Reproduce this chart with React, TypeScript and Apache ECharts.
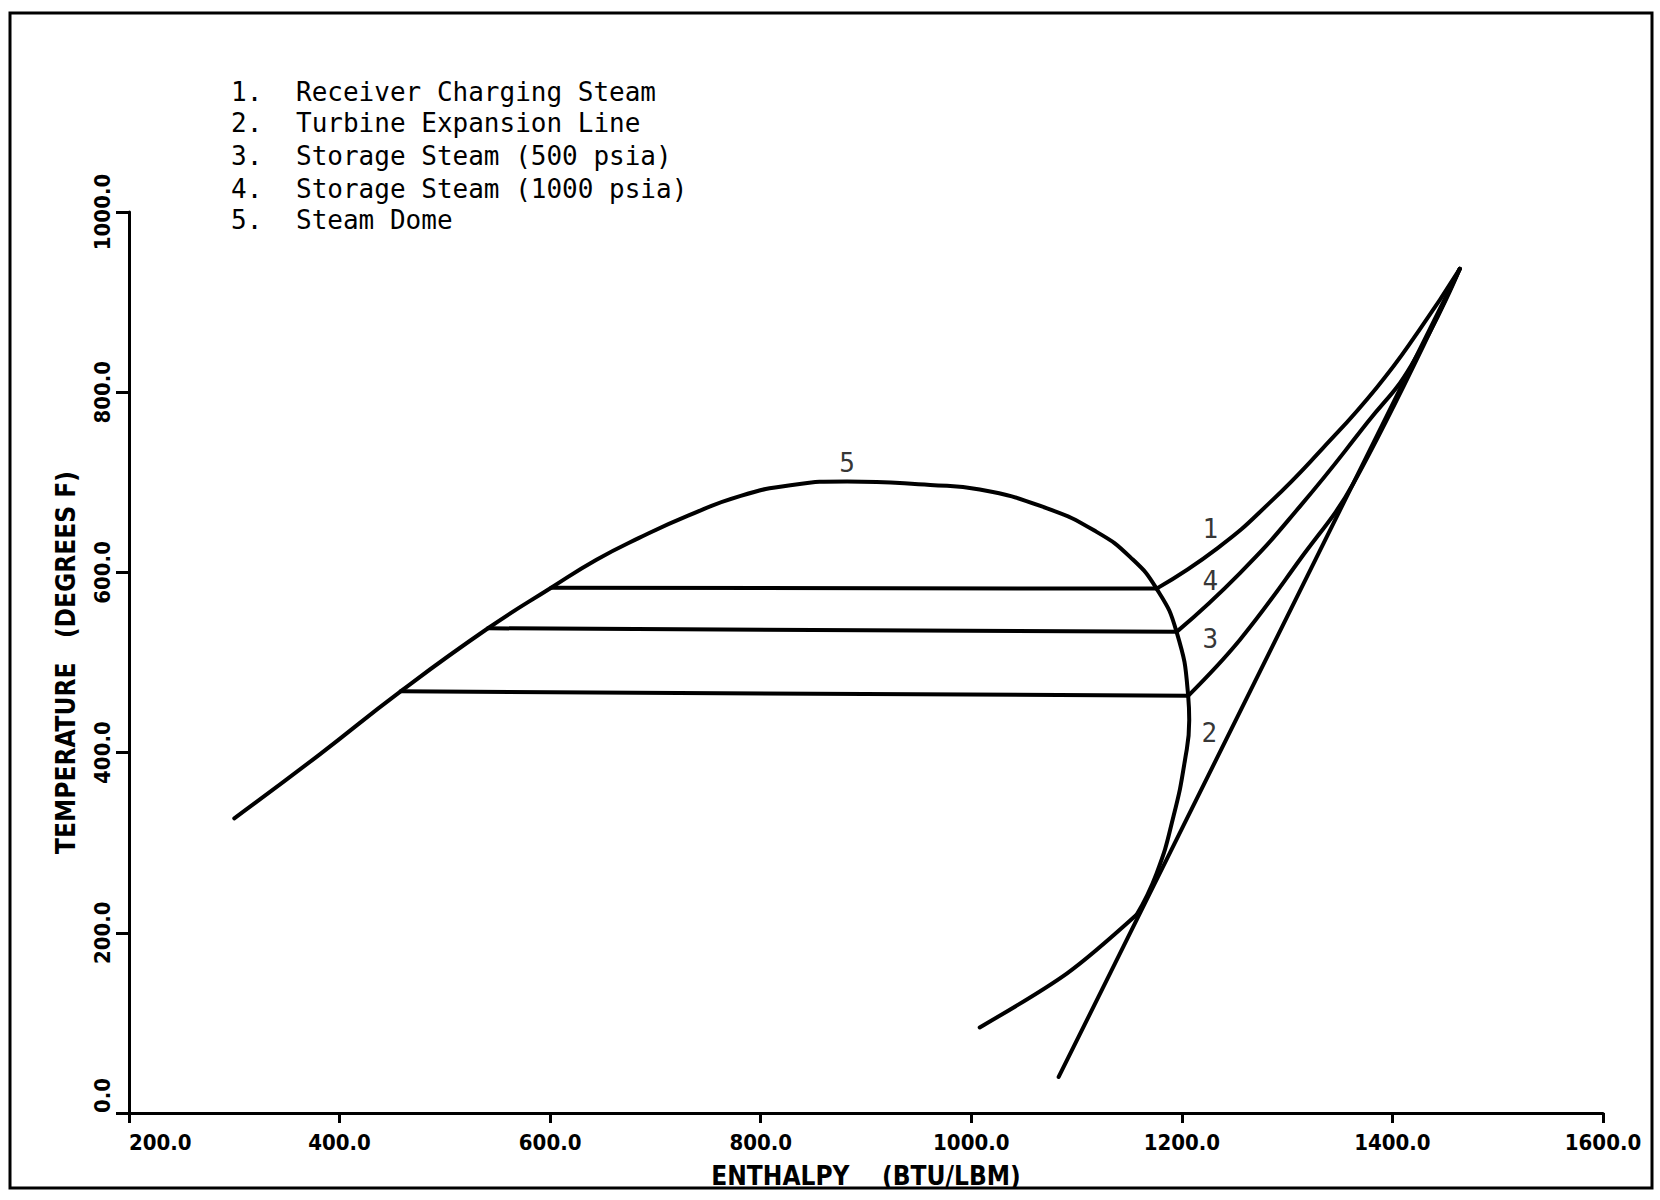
import React, { useEffect, useRef } from 'react';
import * as echarts from 'echarts';

// Enthalpy (BTU/LBM), Temperature (deg F) pairs
const steamDome: number[][] = [
  [300, 327], [380, 397], [458, 468], [541, 538], [601, 583], [644, 614], [684, 638], [731, 663],
  [781, 685], [830, 697], [882, 701], [961, 697], [1008, 692], [1072, 671], [1119, 645],
  [1151, 617], [1176, 582], [1195, 534], [1206, 463], [1207, 436], [1203, 392],
  [1192, 329], [1176, 266], [1157, 220],
];
const domeTail: number[][] = [[1157, 220], [1091, 155], [1008, 95]];
const tieLineUpper: number[][] = [[601, 583], [1176, 582]];
const tieLine1000: number[][] = [[541, 538], [1195, 534]];
const tieLine500: number[][] = [[458, 468], [1206, 463]];
const receiverCharging: number[][] = [[1176, 582], [1234, 627], [1284, 678], [1334, 738], [1385, 805], [1425, 868], [1464, 937]];
const storage1000: number[][] = [[1195, 534], [1255, 599], [1312, 673], [1376, 766], [1418, 830], [1464, 937]];
const storage500: number[][] = [[1206, 463], [1255, 525], [1312, 614], [1363, 699], [1464, 937]];
const turbineExpansion: number[][] = [[1083, 40], [1464, 937]];

const curveLabelNames = ['1', '4', '3', '2', '5'];
const curveLabelPos: number[][] = [[1227, 648], [1227, 590], [1227, 526], [1226, 422], [882, 721]];

const legendNumbers = ['1.', '2.', '3.', '4.', '5.'];
const legendItems = [
  'Receiver Charging Steam',
  'Turbine Expansion Line',
  'Storage Steam (500 psia)',
  'Storage Steam (1000 psia)',
  'Steam Dome',
];

const xTickMin = 200;
const xTickMax = 1600;
const yTickMin = 0;
const yTickMax = 1000;
const tickStep = 200;

const plotFont = "'DejaVu Sans Condensed', 'Liberation Sans Narrow', sans-serif";
const legendFont = "'DejaVu Sans Mono', 'Liberation Mono', monospace";

function lineSeries(name: string, data: number[][], smooth: boolean | number) {
  return {
    name,
    type: 'line',
    data,
    smooth,
    showSymbol: false,
    symbol: 'none',
    lineStyle: { color: '#000', width: 4, cap: 'round', join: 'round' },
    z: 3,
  };
}

export default function App() {
  const ref = useRef<HTMLDivElement>(null);
  useEffect(() => {
    if (!ref.current) return;
    const chart = echarts.init(ref.current, null, { renderer: 'svg' });
    const legendGraphics: any[] = [];
    const rowY = [93, 124, 157, 190, 221];
    legendItems.forEach((t, i) => {
      legendGraphics.push({
        type: 'text', left: 231, top: rowY[i] - 14,
        style: { text: legendNumbers[i], font: `26px ${legendFont}`, fill: '#000' },
      });
      legendGraphics.push({
        type: 'text', left: 296, top: rowY[i] - 14,
        style: { text: t, font: `26px ${legendFont}`, fill: '#000' },
      });
    });
    chart.setOption({
      animation: false,
      backgroundColor: '#fff',
      grid: { left: 129, top: 212, width: 1474, height: 901, containLabel: false },
      xAxis: {
        type: 'value', min: xTickMin, max: xTickMax, interval: tickStep,
        name: 'ENTHALPY    (BTU/LBM)', nameLocation: 'middle', nameGap: 50,
        nameTextStyle: { fontFamily: plotFont, fontSize: 26, color: '#000', fontWeight: 'bold' },
        axisLine: { lineStyle: { color: '#000', width: 3 } },
        axisTick: { show: true, inside: false, length: 10, lineStyle: { color: '#000', width: 3 } },
        axisLabel: {
          formatter: (v: number) => v.toFixed(1), margin: 18,
          fontFamily: plotFont, fontSize: 22, fontWeight: 'bold', color: '#000',
          alignMinLabel: 'left',
        },
        splitLine: { show: false },
      },
      yAxis: {
        type: 'value', min: yTickMin, max: yTickMax, interval: tickStep,
        name: 'TEMPERATURE   (DEGREES F)', nameLocation: 'middle', nameGap: 50,
        nameTextStyle: { fontFamily: plotFont, fontSize: 26, color: '#000', fontWeight: 'bold' },
        axisLine: { lineStyle: { color: '#000', width: 3 } },
        axisTick: { show: true, inside: false, length: 13, lineStyle: { color: '#000', width: 3 } },
        axisLabel: {
          formatter: (v: number) => v.toFixed(1), margin: 16, rotate: 90,
          fontFamily: plotFont, fontSize: 22, fontWeight: 'bold', color: '#000',
          alignMinLabel: 'left',
        },
        splitLine: { show: false },
      },
      graphic: [
        {
          type: 'rect', shape: { x: 10, y: 13, width: 1642, height: 1175 },
          style: { fill: 'none', stroke: '#000', lineWidth: 3 }, silent: true,
        },
        ...legendGraphics,
      ],
      series: [
        lineSeries('Steam Dome', steamDome, 0.5),
        lineSeries('Steam Dome tail', domeTail, 0.3),
        lineSeries('Tie line upper', tieLineUpper, false),
        lineSeries('Tie line 1000 psia', tieLine1000, false),
        lineSeries('Tie line 500 psia', tieLine500, false),
        lineSeries('Receiver Charging Steam', receiverCharging, 0.5),
        lineSeries('Storage Steam (1000 psia)', storage1000, 0.5),
        lineSeries('Storage Steam (500 psia)', storage500, 0.4),
        lineSeries('Turbine Expansion Line', turbineExpansion, false),
        {
          name: 'Curve labels', type: 'scatter', symbolSize: 0, z: 5,
          data: curveLabelNames.map((n, i) => ({ name: n, value: curveLabelPos[i] })),
          label: {
            show: true, position: 'inside', formatter: (p: any) => p.name,
            fontFamily: legendFont, fontSize: 26, color: '#000',
          },
        },
      ],
    });
    return () => chart.dispose();
  }, []);
  return (
    <div
      ref={ref}
      style={{ position: 'absolute', left: 0, top: 0, width: 1660, height: 1200, background: '#fff' }}
    />
  );
}
